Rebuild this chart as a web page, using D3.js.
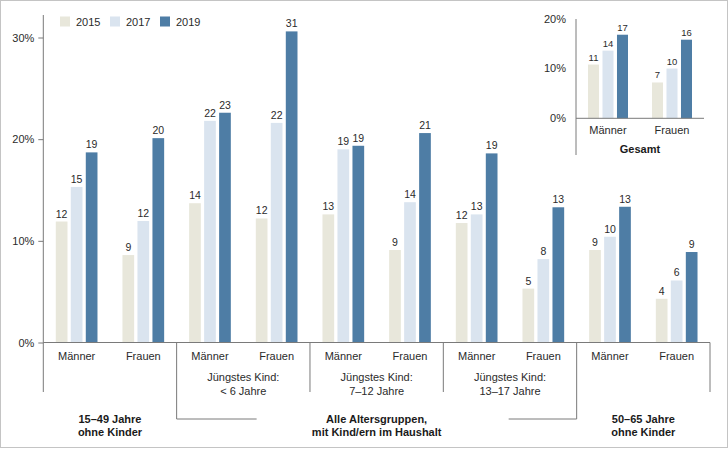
<!DOCTYPE html>
<html>
<head>
<meta charset="utf-8">
<script src="https://cdn.jsdelivr.net/npm/d3@7"></script>
<style>
  body { margin: 0; background: #fff; }
  svg { display: block; font-family: "Liberation Sans", Arial, sans-serif; }
</style>
</head>
<body>
<div id="chart"></div>
<script>
// data
const years = ["2015", "2017", "2019"];
const groups = ["Männer", "Frauen", "Männer", "Frauen", "Männer", "Frauen", "Männer", "Frauen", "Männer", "Frauen"];
const values2015 = [11.9, 8.6, 13.7, 12.2, 12.6, 9.1, 11.75, 5.3, 9.1, 4.3];
const values2017 = [15.3, 11.95, 21.8, 21.6, 19.0, 13.8, 12.6, 8.2, 10.4, 6.1];
const values2019 = [18.7, 20.1, 22.6, 30.6, 19.35, 20.6, 18.6, 13.3, 13.35, 8.9];
const yTicks = [0, 10, 20, 30];

const totalGroups = ["Männer", "Frauen"];
const total2015 = [10.8, 7.2];
const total2017 = [13.6, 10.0];
const total2019 = [16.8, 15.8];
const totalTicks = [0, 10, 20];

const subLabels = [
  {from: 2, to: 4, lines: ["Jüngstes Kind:", "< 6 Jahre"]},
  {from: 4, to: 6, lines: ["Jüngstes Kind:", "7–12 Jahre"]},
  {from: 6, to: 8, lines: ["Jüngstes Kind:", "13–17 Jahre"]}
];
const bigLabels = [
  {from: 0, to: 2, lines: ["15–49 Jahre", "ohne Kinder"]},
  {from: 2, to: 8, lines: ["Alle Altersgruppen,", "mit Kind/ern im Haushalt"]},
  {from: 8, to: 10, lines: ["50–65 Jahre", "ohne Kinder"]}
];

const width = 728, height = 449;
const color = d3.scaleOrdinal().domain(years).range(["#e8e7db", "#dae4ef", "#4e7da5"]);
const axisColor = "#7a7a7a", textColor = "#2b2b2b";

const svg = d3.select("#chart").append("svg")
  .attr("width", width).attr("height", height);

// light frame round the picture
svg.append("rect")
  .attr("x", 0.5).attr("y", 0.5).attr("width", width - 1).attr("height", height - 2)
  .attr("fill", "none").attr("stroke", "#c4c4c4");

// main chart
const idx = d3.range(groups.length);
const x = d3.scaleBand().domain(idx).range([43.3, 710]);
const x1 = d3.scaleBand().domain(years).range([0, 41.7]).paddingInner(0.22);
const y = d3.scaleLinear().domain([0, 30]).range([342.5, 37.5]);
const series = {"2015": values2015, "2017": values2017, "2019": values2019};

const yAxis = svg.append("g")
  .attr("transform", "translate(43.3,0)")
  .call(d3.axisLeft(y).tickValues(yTicks).tickFormat(d => d + "%").tickSize(5).tickPadding(4));
yAxis.select(".domain").remove();
yAxis.selectAll("line").attr("stroke", axisColor);
yAxis.selectAll("text").attr("font-size", 11).attr("fill", textColor)
  .attr("font-family", "Liberation Sans, Arial, sans-serif");

const bars = svg.append("g").selectAll("g")
  .data(idx).enter().append("g")
  .attr("transform", i => "translate(" + (x(i) + x.bandwidth() / 2 - 20.85) + ",0)");

bars.selectAll("rect")
  .data(i => years.map(yr => ({yr: yr, v: series[yr][i]})))
  .enter().append("rect")
  .attr("x", d => x1(d.yr))
  .attr("width", x1.bandwidth())
  .attr("y", d => y(d.v))
  .attr("height", d => y(0) - y(d.v))
  .attr("fill", d => color(d.yr));

bars.selectAll("text")
  .data(i => years.map(yr => ({yr: yr, v: series[yr][i]})))
  .enter().append("text")
  .attr("x", d => x1(d.yr) + x1.bandwidth() / 2)
  .attr("y", d => y(d.v) - 4)
  .attr("text-anchor", "middle")
  .attr("font-size", 10.5)
  .attr("fill", textColor)
  .text(d => Math.round(d.v));

// axis lines
svg.append("line")
  .attr("x1", 43.3).attr("x2", 43.3).attr("y1", 15).attr("y2", 392)
  .attr("stroke", axisColor);
svg.append("line")
  .attr("x1", 43.3).attr("x2", x.range()[1]).attr("y1", y(0)).attr("y2", y(0))
  .attr("stroke", axisColor);

// group dividers below the axis
[2, 4, 6, 8, 10].forEach(k => {
  const xx = k < 10 ? x(k) : x.range()[1];
  const deep = (k === 2 || k === 8);
  svg.append("line")
    .attr("x1", xx).attr("x2", xx).attr("y1", y(0)).attr("y2", deep ? 419 : 392)
    .attr("stroke", axisColor);
});
svg.append("line").attr("x1", x(2)).attr("x2", x(2) + 80).attr("y1", 419).attr("y2", 419).attr("stroke", axisColor);
svg.append("line").attr("x1", x(8) - 68).attr("x2", x(8)).attr("y1", 419).attr("y2", 419).attr("stroke", axisColor);

svg.append("g").selectAll("text")
  .data(idx).enter().append("text")
  .attr("x", i => x(i) + x.bandwidth() / 2)
  .attr("y", 360)
  .attr("text-anchor", "middle")
  .attr("font-size", 11)
  .attr("fill", textColor)
  .text(i => groups[i]);

subLabels.forEach(s => {
  const cx = (x(s.from) + x(s.to - 1) + x.bandwidth()) / 2;
  s.lines.forEach((t, j) => {
    svg.append("text").attr("x", cx).attr("y", 381 + j * 14)
      .attr("text-anchor", "middle").attr("font-size", 11).attr("fill", textColor).text(t);
  });
});

bigLabels.forEach(s => {
  const cx = (x(s.from) + x(s.to - 1) + x.bandwidth()) / 2;
  s.lines.forEach((t, j) => {
    svg.append("text").attr("x", cx).attr("y", 422.5 + j * 13)
      .attr("text-anchor", "middle").attr("font-size", 11).attr("font-weight", "bold")
      .attr("fill", "#1a1a1a").text(t);
  });
});

// legend
const legend = svg.append("g").selectAll("g")
  .data(years).enter().append("g")
  .attr("transform", (d, i) => "translate(" + (60 + i * 50) + ",16.5)");
legend.append("rect").attr("width", 10).attr("height", 10).attr("fill", d => color(d));
legend.append("text").attr("x", 16).attr("y", 9).attr("font-size", 11)
  .attr("fill", textColor).text(d => d);

// inset: Gesamt
const ix = d3.scaleBand().domain(d3.range(totalGroups.length)).range([576, 704]);
const ix1 = d3.scaleBand().domain(years).range([0, 40]).paddingInner(0.24);
const iy = d3.scaleLinear().domain([0, 20]).range([118.3, 18.8]);
const totals = {"2015": total2015, "2017": total2017, "2019": total2019};

svg.append("g").selectAll("text")
  .data(totalTicks).enter().append("text")
  .attr("x", 566).attr("y", d => iy(d)).attr("dy", "0.35em")
  .attr("text-anchor", "end").attr("font-size", 11).attr("fill", textColor)
  .text(d => d + "%");

const ibars = svg.append("g").selectAll("g")
  .data(d3.range(totalGroups.length)).enter().append("g")
  .attr("transform", i => "translate(" + (ix(i) + ix.bandwidth() / 2 - 20) + ",0)");

ibars.selectAll("rect")
  .data(i => years.map(yr => ({yr: yr, v: totals[yr][i]})))
  .enter().append("rect")
  .attr("x", d => ix1(d.yr))
  .attr("width", ix1.bandwidth())
  .attr("y", d => iy(d.v))
  .attr("height", d => iy(0) - iy(d.v))
  .attr("fill", d => color(d.yr));

ibars.selectAll("text")
  .data(i => years.map(yr => ({yr: yr, v: totals[yr][i]})))
  .enter().append("text")
  .attr("x", d => ix1(d.yr) + ix1.bandwidth() / 2)
  .attr("y", d => iy(d.v) - 4)
  .attr("text-anchor", "middle")
  .attr("font-size", 9.5)
  .attr("fill", textColor)
  .text(d => Math.round(d.v));

svg.append("line").attr("x1", 576).attr("x2", 576).attr("y1", 19).attr("y2", 155).attr("stroke", axisColor);
svg.append("line").attr("x1", 576).attr("x2", 704).attr("y1", iy(0)).attr("y2", iy(0)).attr("stroke", axisColor);

svg.append("g").selectAll("text")
  .data(totalGroups).enter().append("text")
  .attr("x", (d, i) => ix(i) + ix.bandwidth() / 2)
  .attr("y", 134)
  .attr("text-anchor", "middle").attr("font-size", 11).attr("fill", textColor)
  .text(d => d);

svg.append("text").attr("x", 640).attr("y", 153)
  .attr("text-anchor", "middle").attr("font-size", 11).attr("font-weight", "bold")
  .attr("fill", "#1a1a1a").text("Gesamt");
</script>
</body>
</html>
